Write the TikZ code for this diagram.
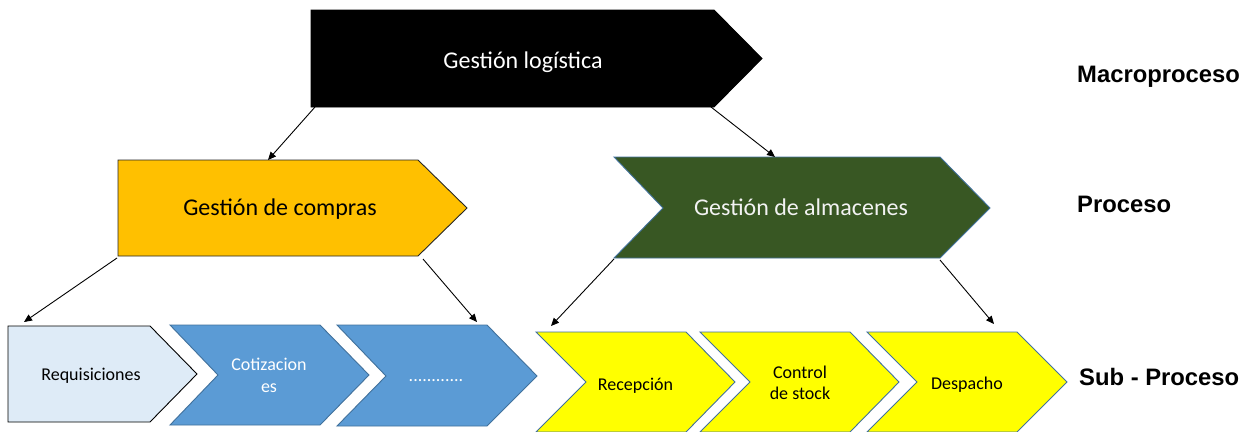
\documentclass[tikz,border=0pt]{standalone}
\usepackage{fontspec}
\setmainfont{Carlito}
\newfontfamily\labelfont{Liberation Sans}
\usetikzlibrary{arrows.meta}
\definecolor{compras}{HTML}{FFC000}
\definecolor{almacen}{HTML}{385723}
\definecolor{reqfill}{HTML}{DEEBF7}
\definecolor{bluefill}{HTML}{5B9BD5}
\definecolor{edgeblue}{HTML}{41719C}
\definecolor{yfill}{HTML}{FFFF00}
\begin{document}
\begin{tikzpicture}[x=1pt,y=-1pt,
  shapeline/.style={line width=0.9pt, line join=miter},
  bigtext/.style={font=\fontsize{24}{29}\selectfont, inner sep=0pt, anchor=base},
  smalltext/.style={font=\fontsize{18}{21.5}\selectfont, inner sep=0pt, align=center},
  leveltext/.style={font=\labelfont\bfseries\fontsize{23.8}{28}\selectfont, inner sep=0pt, anchor=base west},
  conn/.style={line width=0.9pt, -{Triangle[length=8pt,width=7pt]}}]
\clip (0,0) rectangle (1255,431);
\fill[white] (0,0) rectangle (1255,431);
% macroproceso
\draw[shapeline, fill=black, draw=black] (311,10) -- (714,10) -- (762,58.5) -- (714,107) -- (311,107) -- cycle;
% procesos
\draw[shapeline, fill=compras, draw=black!85] (118,160) -- (418,160) -- (467,208) -- (418,256) -- (118,256) -- cycle;
\draw[shapeline, fill=almacen, draw=edgeblue] (614,157) -- (940,157) -- (990,208) -- (940,258) -- (614,258) -- (663,208) -- cycle;
% subprocesos
\draw[shapeline, fill=reqfill, draw=black] (8,326) -- (150,326) -- (197,374) -- (150,422) -- (8,422) -- cycle;
\draw[shapeline, fill=bluefill, draw=edgeblue] (170,325) -- (320,325) -- (369,375) -- (320,425) -- (170,425) -- (218,375) -- cycle;
\draw[shapeline, fill=bluefill, draw=edgeblue] (337,325) -- (487,325) -- (537,376) -- (487,426) -- (337,426) -- (386,376) -- cycle;
\draw[shapeline, fill=yfill, draw=edgeblue] (536,332) -- (686,332) -- (735,382) -- (686,432) -- (536,432) -- (586,382) -- cycle;
\draw[shapeline, fill=yfill, draw=edgeblue] (700,332) -- (850,332) -- (899,382) -- (850,432) -- (700,432) -- (750,382) -- cycle;
\draw[shapeline, fill=yfill, draw=edgeblue] (867,332) -- (1017,332) -- (1067,382) -- (1017,432) -- (867,432) -- (917,382) -- cycle;
% texts
\node[bigtext, text=white] (tlog) at (523,68) {Gestión logística};
\node[bigtext, text=black] (tcom) at (280,215) {Gestión de compras};
\node[bigtext, text=white!95!black] (talm) at (801,215) {Gestión de almacenes};
\node[smalltext, anchor=base, text=black] (treq) at (91,380) {Requisiciones};
\node[smalltext, anchor=center, text=white] (tcot) at (269,375.5) {Cotizacion\\es};
\node[smalltext, anchor=base, text=white] (tdot) at (436,381) {............};
\node[smalltext, anchor=base, text=black] (trec) at (635.5,390) {Recepción};
\node[smalltext, anchor=center, text=black] (tcon) at (800,383) {Control\\de stock};
\node[smalltext, anchor=base, text=black] (tdes) at (967,389) {Despacho};
% level labels
\node[leveltext] (lmac) at (1077,82) {Macroproceso};
\node[leveltext] (lpro) at (1077,212) {Proceso};
\node[leveltext] (lsub) at (1079,385) {Sub - Proceso};
% connector end points
\coordinate (s1) at (315,107); \coordinate (e1) at (268,160);
\coordinate (s2) at (711,107); \coordinate (e2) at (775,157);
\coordinate (s3) at (117,258); \coordinate (e3) at (24,322);
\coordinate (s4) at (423,259); \coordinate (e4) at (477,322);
\coordinate (s5) at (614,259); \coordinate (e5) at (551,326);
\coordinate (s6) at (940,260); \coordinate (e6) at (994,324);
\draw[conn] (s1) -- (e1);
\draw[conn] (s2) -- (e2);
\draw[conn] (s3) -- (e3);
\draw[conn] (s4) -- (e4);
\draw[conn] (s5) -- (e5);
\draw[conn] (s6) -- (e6);
\end{tikzpicture}
\end{document}
